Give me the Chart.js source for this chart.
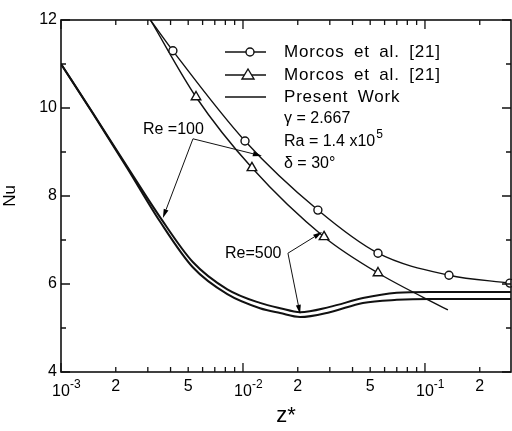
<!DOCTYPE html>
<html>
<head>
<meta charset="utf-8">
<script src="https://cdn.jsdelivr.net/npm/chart.js@4.4.1/dist/chart.umd.min.js"></script>
<style>
  html, body { margin: 0; padding: 0; background: #fff; overflow: hidden; }
  canvas { display: block; }
</style>
</head>
<body>
<canvas id="nuChart" width="512" height="431"></canvas>
<script>
// Morcos et al. [21], Re = 100 (circles) - first point has no marker
const circleZ = [0.0031, 0.00412, 0.01026, 0.0258, 0.0552, 0.1355, 0.293];
const circleNu = [12.0, 11.30, 9.25, 7.68, 6.70, 6.20, 6.02];

// Morcos et al. [21], Re = 500 (triangles) - first and last points have no marker
const triZ = [0.0031, 0.00552, 0.0112, 0.0279, 0.0552, 0.1337];
const triNu = [12.0, 10.25, 8.64, 7.07, 6.25, 5.41];

// Present work, the two close solid curves
const presentZ = [0.001, 0.0015, 0.0023, 0.0035, 0.0053, 0.0082, 0.0124, 0.016, 0.0206, 0.030, 0.0456, 0.070, 0.1065, 0.297];
const presentNuA = [11.0, 9.88, 8.68, 7.52, 6.50, 5.88, 5.57, 5.45, 5.36, 5.48, 5.68, 5.80, 5.82, 5.82];
const presentNuB = [11.0, 9.87, 8.65, 7.42, 6.38, 5.77, 5.45, 5.34, 5.25, 5.36, 5.57, 5.64, 5.66, 5.66];

// Axis ticks
const xMajorTicks = [0.001, 0.01, 0.1];
const xMinorTicks = [0.002, 0.003, 0.004, 0.005, 0.006, 0.007, 0.008, 0.009,
                     0.02, 0.03, 0.04, 0.05, 0.06, 0.07, 0.08, 0.09, 0.2];
const xLabelValues = [0.001, 0.002, 0.005, 0.01, 0.02, 0.05, 0.1, 0.2];
const xLabelBase = ['10', '2', '5', '10', '2', '5', '10', '2'];
const xLabelExp = ['-3', '', '', '-2', '', '', '-1', ''];
const yMajorTicks = [4, 6, 8, 10, 12];
const yMinorTicks = [5, 7, 9, 11];

const INK = '#111';
const FONT = '"Liberation Sans", Arial, sans-serif';

function pts(xs, ys) {
    return xs.map((x, i) => ({ x: x, y: ys[i] }));
}

// frame, inward ticks on all four sides, x tick labels with superscripts
const framePlugin = {
    id: 'frame',
    afterDraw(chart) {
        const ctx = chart.ctx;
        const a = chart.chartArea;
        const xs = chart.scales.x, ys = chart.scales.y;
        ctx.save();
        ctx.strokeStyle = INK;
        ctx.lineWidth = 1.6;
        ctx.strokeRect(a.left, a.top, a.right - a.left, a.bottom - a.top);

        ctx.lineWidth = 1.3;
        ctx.beginPath();
        const xt = (v, len) => {
            const p = xs.getPixelForValue(v);
            ctx.moveTo(p, a.bottom); ctx.lineTo(p, a.bottom - len);
            ctx.moveTo(p, a.top); ctx.lineTo(p, a.top + len);
        };
        const yt = (v, len) => {
            const p = ys.getPixelForValue(v);
            ctx.moveTo(a.left, p); ctx.lineTo(a.left + len, p);
            ctx.moveTo(a.right, p); ctx.lineTo(a.right - len, p);
        };
        xMajorTicks.forEach(v => xt(v, 9));
        xMinorTicks.forEach(v => xt(v, 5));
        yMajorTicks.forEach(v => yt(v, 9));
        yMinorTicks.forEach(v => yt(v, 5));
        ctx.stroke();

        // x tick labels
        ctx.fillStyle = '#000';
        ctx.textBaseline = 'middle';
        xLabelValues.forEach((v, i) => {
            const p = xs.getPixelForValue(v);
            ctx.font = '16px ' + FONT;
            ctx.textAlign = 'center';
            if (xLabelExp[i]) {
                const w = ctx.measureText(xLabelBase[i]).width;
                ctx.fillText(xLabelBase[i], p, a.bottom + 20);
                ctx.font = '12px ' + FONT;
                ctx.textAlign = 'left';
                ctx.fillText(xLabelExp[i], p + w / 2, a.bottom + 13);
            } else {
                ctx.fillText(xLabelBase[i], p, a.bottom + 15);
            }
        });
        ctx.restore();
    }
};

// legend in the upper right of the plot
const legendPlugin = {
    id: 'paperLegend',
    afterDraw(chart) {
        const ctx = chart.ctx;
        ctx.save();
        ctx.strokeStyle = INK;
        ctx.fillStyle = '#000';
        ctx.lineWidth = 1.4;
        const x0 = 225, x1 = 266, tx = 284;
        const rows = [52, 75, 97];
        rows.forEach(y => {
            ctx.beginPath(); ctx.moveTo(x0, y); ctx.lineTo(x1, y); ctx.stroke();
        });
        // circle marker
        ctx.beginPath();
        ctx.arc(250, rows[0], 4, 0, Math.PI * 2);
        ctx.fillStyle = '#fff'; ctx.fill(); ctx.stroke();
        // triangle marker
        ctx.beginPath();
        ctx.moveTo(248, rows[1] - 6); ctx.lineTo(254, rows[1] + 4); ctx.lineTo(242, rows[1] + 4);
        ctx.closePath(); ctx.fill(); ctx.stroke();

        ctx.fillStyle = '#000';
        ctx.textAlign = 'left';
        ctx.textBaseline = 'middle';
        ctx.font = '17px ' + FONT;
        ctx.letterSpacing = '0.8px';
        ctx.wordSpacing = '4px';
        ctx.fillText('Morcos et al. [21]', tx, rows[0]);
        ctx.fillText('Morcos et al. [21]', tx, rows[1]);
        ctx.fillText('Present Work', tx, rows[2]);
        ctx.letterSpacing = '0px';
        ctx.wordSpacing = '0px';
        ctx.font = '16px ' + FONT;
        ctx.fillText('\u03b3 = 2.667', tx, 119);
        const ra = 'Ra = 1.4 x10';
        ctx.fillText(ra, tx, 142);
        const w = ctx.measureText(ra).width;
        ctx.font = '12px ' + FONT;
        ctx.fillText('5', tx + w + 1, 135);
        ctx.font = '16px ' + FONT;
        ctx.fillText('\u03b4 = 30\u00b0', tx, 164);
        ctx.restore();
    }
};

// Re labels with arrows, anchored in data coordinates
const reNotes = [
    { text: 'Re =100', at: [0.00282, 9.5], from: [0.00531, 9.3], to: [[0.00363, 7.5], [0.0127, 8.91]] },
    { text: 'Re=500', at: [0.00796, 6.68], from: [0.01766, 6.7], to: [[0.0272, 7.18], [0.0206, 5.32]] }
];

function arrow(ctx, x1, y1, x2, y2) {
    const ang = Math.atan2(y2 - y1, x2 - x1);
    const len = 9, half = 2.5;
    ctx.beginPath(); ctx.moveTo(x1, y1); ctx.lineTo(x2 - Math.cos(ang) * len, y2 - Math.sin(ang) * len); ctx.stroke();
    ctx.beginPath();
    ctx.moveTo(x2, y2);
    ctx.lineTo(x2 - Math.cos(ang) * len - Math.sin(ang) * half, y2 - Math.sin(ang) * len + Math.cos(ang) * half);
    ctx.lineTo(x2 - Math.cos(ang) * len + Math.sin(ang) * half, y2 - Math.sin(ang) * len - Math.cos(ang) * half);
    ctx.closePath(); ctx.fill();
}

const notesPlugin = {
    id: 'reNotes',
    afterDatasetsDraw(chart) {
        const ctx = chart.ctx;
        const xs = chart.scales.x, ys = chart.scales.y;
        ctx.save();
        ctx.fillStyle = '#000';
        ctx.strokeStyle = INK;
        ctx.lineWidth = 1;
        ctx.font = '16px ' + FONT;
        ctx.textAlign = 'left';
        ctx.textBaseline = 'middle';
        reNotes.forEach(n => {
            ctx.fillText(n.text, xs.getPixelForValue(n.at[0]), ys.getPixelForValue(n.at[1]));
            const fx = xs.getPixelForValue(n.from[0]), fy = ys.getPixelForValue(n.from[1]);
            n.to.forEach(t => arrow(ctx, fx, fy, xs.getPixelForValue(t[0]), ys.getPixelForValue(t[1])));
        });
        ctx.restore();
    }
};

const lineBase = {
    borderColor: INK,
    pointBorderColor: INK,
    pointBackgroundColor: '#fff',
    cubicInterpolationMode: 'monotone',
    fill: false
};

new Chart(document.getElementById('nuChart'), {
    type: 'line',
    data: {
        datasets: [
            Object.assign({}, lineBase, {
                label: 'Morcos et al. [21] Re=100',
                data: pts(circleZ, circleNu),
                borderWidth: 1.4,
                pointStyle: 'circle',
                pointRadius: circleZ.map((z, i) => i === 0 ? 0 : 4),
                pointBorderWidth: 1.4,
                clip: { left: 0, top: 0, right: 6, bottom: 0 }
            }),
            Object.assign({}, lineBase, {
                label: 'Morcos et al. [21] Re=500',
                data: pts(triZ, triNu),
                borderWidth: 1.4,
                pointStyle: 'triangle',
                pointRadius: triZ.map((z, i) => (i === 0 || i === triZ.length - 1) ? 0 : 5.5),
                pointBorderWidth: 1.4
            }),
            Object.assign({}, lineBase, {
                label: 'Present Work A',
                data: pts(presentZ, presentNuA),
                borderWidth: 2,
                pointRadius: 0
            }),
            Object.assign({}, lineBase, {
                label: 'Present Work B',
                data: pts(presentZ, presentNuB),
                borderWidth: 2,
                pointRadius: 0
            })
        ]
    },
    options: {
        responsive: false,
        animation: false,
        devicePixelRatio: 1,
        layout: { autoPadding: false, padding: { top: 20, right: 1, left: 0, bottom: 0 } },
        plugins: { legend: { display: false }, tooltip: { enabled: false } },
        scales: {
            x: {
                type: 'logarithmic',
                min: 0.001,
                max: 0.297,
                grid: { display: false, drawTicks: false },
                border: { display: false },
                ticks: { display: false },
                title: { display: true, text: 'z*', color: '#000', font: { family: FONT, size: 22 }, padding: { top: 0, bottom: 2 } },
                afterFit(scale) { scale.height = 59; }
            },
            y: {
                min: 4,
                max: 12,
                grid: { display: false, drawTicks: false },
                border: { display: false },
                ticks: { stepSize: 2, color: '#000', padding: 4, font: { family: FONT, size: 16 } },
                title: { display: true, text: 'Nu', color: '#000', font: { family: FONT, size: 17 }, padding: { top: 0, bottom: 4 } },
                afterFit(scale) { scale.width = 61; }
            }
        }
    },
    plugins: [framePlugin, legendPlugin, notesPlugin]
});
</script>
</body>
</html>
